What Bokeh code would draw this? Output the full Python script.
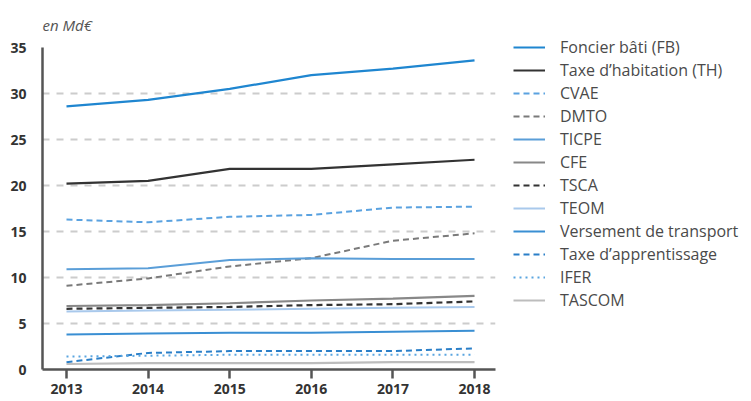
from bokeh.plotting import figure
from bokeh.models import Legend, LegendItem, FixedTicker, Range1d
from bokeh.embed import file_html
from bokeh.resources import INLINE

years = [2013, 2014, 2015, 2016, 2017, 2018]
fb = [28.6, 29.3, 30.5, 32.0, 32.7, 33.6]
th = [20.2, 20.5, 21.8, 21.8, 22.3, 22.8]
cvae = [16.3, 16.0, 16.6, 16.8, 17.6, 17.7]
dmto = [9.1, 9.9, 11.2, 12.1, 14.0, 14.8]
ticpe = [10.9, 11.0, 11.9, 12.1, 12.0, 12.0]
cfe = [6.9, 7.0, 7.2, 7.5, 7.7, 8.0]
tsca = [6.6, 6.7, 6.8, 7.0, 7.1, 7.4]
teom = [6.3, 6.4, 6.5, 6.6, 6.7, 6.8]
vt = [3.8, 3.9, 4.0, 4.0, 4.1, 4.2]
ta = [0.8, 1.8, 2.0, 2.0, 2.0, 2.3]
ifer = [1.4, 1.5, 1.6, 1.6, 1.6, 1.6]
tascom = [0.6, 0.7, 0.7, 0.7, 0.8, 0.8]
y_ticks = [0, 5, 10, 15, 20, 25, 30, 35]

series = [
    ("Foncier bâti (FB)", fb, "#1f86d0", "solid", 2.2),
    ("Taxe d\u2019habitation (TH)", th, "#333333", "solid", 2.2),
    ("CVAE", cvae, "#5aa2e0", "6 4", 2.0),
    ("DMTO", dmto, "#7a7a7a", "6 4", 2.0),
    ("TICPE", ticpe, "#5a9ed8", "solid", 2.0),
    ("CFE", cfe, "#888888", "solid", 2.2),
    ("TSCA", tsca, "#333333", "6 4", 2.2),
    ("TEOM", teom, "#a9c9ec", "solid", 2.0),
    ("Versement de transport", vt, "#3a8fd3", "solid", 2.0),
    ("Taxe d\u2019apprentissage", ta, "#2a7fc8", "6 4", 2.0),
    ("IFER", ifer, "#5aa5e0", "2 4", 2.0),
    ("TASCOM", tascom, "#bdbdbd", "solid", 2.2),
]

p = figure(frame_width=453, frame_height=322, output_backend="svg", toolbar_location=None,
           x_range=Range1d(2012.706, 2018.257), y_range=Range1d(0, 35),
           min_border_left=42, min_border_right=250, min_border_top=47,
           min_border_bottom=29, title="en Md\u20ac")
p.outline_line_color = None
p.background_fill_color = "white"
p.title.text_font = "Open Sans"
p.title.text_font_style = "italic"
p.title.text_font_size = "15px"
p.title.text_color = "#555555"
p.title.align = "left"
p.title.standoff = 25

items = []
for name, vals, col, dash, lw in series:
    r = p.line(years, vals, line_color=col, line_width=lw, line_dash=dash)
    items.append(LegendItem(label=name, renderers=[r]))

p.xaxis.ticker = FixedTicker(ticks=years)
p.yaxis.ticker = FixedTicker(ticks=y_ticks)
for ax in (p.xaxis[0], p.yaxis[0]):
    ax.axis_line_color = "#555555"
    ax.axis_line_width = 2.5
    ax.major_label_text_font = "Open Sans"
    ax.major_label_text_font_style = "bold"
    ax.major_label_text_font_size = "14px"
    ax.major_label_text_color = "#333333"
    ax.minor_tick_line_color = None
p.xaxis.major_tick_line_color = "#555555"
p.xaxis.major_tick_line_width = 2.5
p.xaxis.major_tick_out = 9
p.xaxis.major_tick_in = 0
p.xaxis.major_label_standoff = 5
p.yaxis.major_tick_line_color = None
p.yaxis.major_label_standoff = 10

p.xgrid.grid_line_color = None
p.ygrid.grid_line_color = "#cccccc"
p.ygrid.grid_line_dash = "7 7"
p.ygrid.grid_line_width = 1.8

legend = Legend(items=items, location=(18, 58), orientation="vertical",
                padding=0, margin=0, spacing=1, label_height=22, glyph_height=22,
                glyph_width=32, label_standoff=15,
                label_text_font="Open Sans", label_text_font_size="16px",
                label_text_color="#4a4a4a", border_line_color=None,
                background_fill_alpha=0)
p.add_layout(legend, "right")

open("out.html", "w").write(file_html(p, INLINE))
